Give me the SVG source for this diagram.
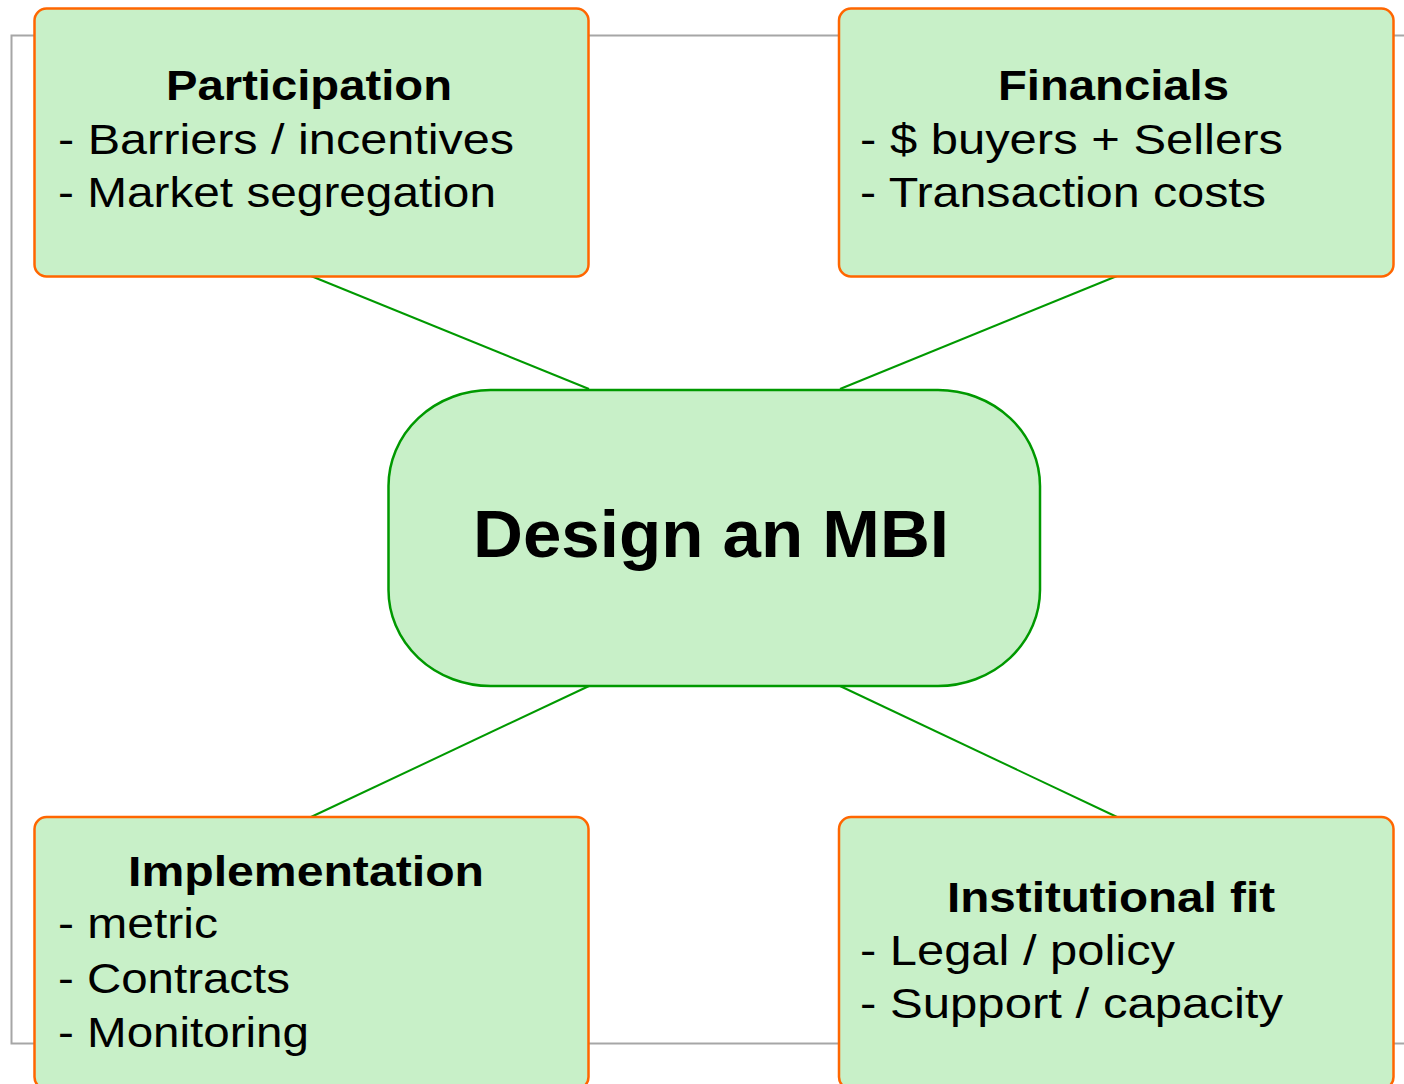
<svg xmlns="http://www.w3.org/2000/svg" width="1404" height="1084" viewBox="0 0 1404 1084">
  <style>
    .frame { fill: none; stroke: #a6a6a6; stroke-width: 2; }
    .box { fill: #c8f0c8; stroke: #ff6600; stroke-width: 2.5; }
    .center { fill: #c8f0c8; stroke: #009900; stroke-width: 2.5; }
    .conn { stroke: #009900; stroke-width: 2; fill: none; }
    text { font-family: "Liberation Sans", Arial, Helvetica, sans-serif; fill: #000; }
    .hd { font-size: 42px; font-weight: bold; }
    .bd { font-size: 42px; }
    .big { font-size: 66px; font-weight: bold; }
  </style>
  <rect width="1404" height="1084" fill="#ffffff"/>
  <rect class="frame" x="11.5" y="35.5" width="1420" height="1008"/>

  <g id="connectors">
    <line class="conn" x1="311" y1="276" x2="589" y2="389"/>
    <line class="conn" x1="1117" y1="276" x2="840" y2="389"/>
    <line class="conn" x1="589" y1="686" x2="311" y2="817"/>
    <line class="conn" x1="840" y1="686" x2="1117" y2="817"/>
  </g>

  <g id="participation">
    <rect class="box" x="34.5" y="8.5" width="554" height="268" rx="12" ry="12"/>
    <text class="hd" x="166" y="100" textLength="286" lengthAdjust="spacingAndGlyphs">Participation</text>
    <text class="bd" x="58" y="154" textLength="456" lengthAdjust="spacingAndGlyphs">- Barriers / incentives</text>
    <text class="bd" x="58" y="207" textLength="438" lengthAdjust="spacingAndGlyphs">- Market segregation</text>
  </g>

  <g id="financials">
    <rect class="box" x="839" y="8.5" width="554.5" height="268" rx="12" ry="12"/>
    <text class="hd" x="998" y="100" textLength="231" lengthAdjust="spacingAndGlyphs">Financials</text>
    <text class="bd" x="860" y="154" textLength="423" lengthAdjust="spacingAndGlyphs">- $ buyers + Sellers</text>
    <text class="bd" x="860" y="207" textLength="406" lengthAdjust="spacingAndGlyphs">- Transaction costs</text>
  </g>

  <g id="design-mbi">
    <rect class="center" x="388.5" y="390" width="651.5" height="296" rx="102" ry="96"/>
    <text class="big" x="473" y="557" textLength="476" lengthAdjust="spacingAndGlyphs">Design an MBI</text>
  </g>

  <g id="implementation">
    <rect class="box" x="34.5" y="817" width="554" height="272" rx="12" ry="12"/>
    <text class="hd" x="128" y="886" textLength="356" lengthAdjust="spacingAndGlyphs">Implementation</text>
    <text class="bd" x="58" y="938" textLength="160" lengthAdjust="spacingAndGlyphs">- metric</text>
    <text class="bd" x="58" y="993" textLength="232" lengthAdjust="spacingAndGlyphs">- Contracts</text>
    <text class="bd" x="58" y="1047" textLength="251" lengthAdjust="spacingAndGlyphs">- Monitoring</text>
  </g>

  <g id="institutional-fit">
    <rect class="box" x="839" y="817" width="554.5" height="272" rx="12" ry="12"/>
    <text class="hd" x="947" y="912" textLength="328" lengthAdjust="spacingAndGlyphs">Institutional fit</text>
    <text class="bd" x="860" y="965" textLength="315" lengthAdjust="spacingAndGlyphs">- Legal / policy</text>
    <text class="bd" x="860" y="1018" textLength="423" lengthAdjust="spacingAndGlyphs">- Support / capacity</text>
  </g>
</svg>
